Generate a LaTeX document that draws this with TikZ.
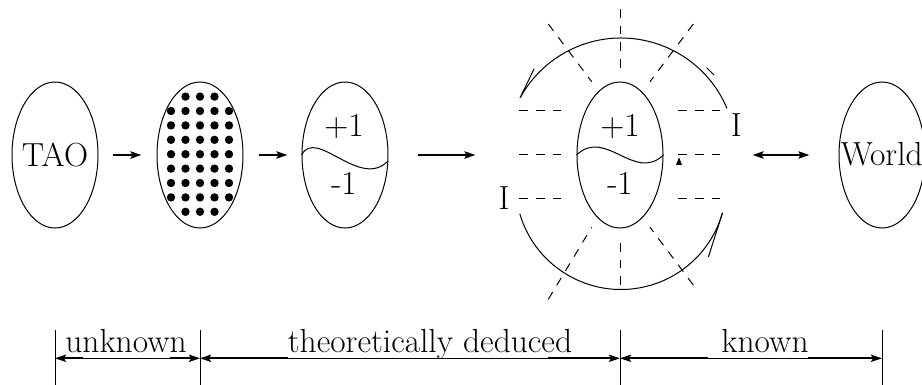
\documentclass[tikz,border=0pt]{standalone}
\usetikzlibrary{shapes.geometric,arrows.meta}
\begin{document}
\begin{tikzpicture}[x=0.5pt,y=0.5pt,
  ell/.style={draw, ellipse, minimum width=43pt, minimum height=73pt, inner sep=0pt, line width=0.5pt},
  lbl/.style={font=\fontsize{16.7}{20}\selectfont, inner sep=0pt, anchor=base},
  arr/.style={line width=1pt, -{Stealth[length=5.5pt,width=3.6pt,inset=1pt]}},
  darr/.style={line width=1pt, {Stealth[length=5.5pt,width=3.6pt,inset=1pt]}-{Stealth[length=5.5pt,width=3.6pt,inset=1pt]}},
  dsh/.style={line width=0.5pt, dash pattern=on 4.3pt off 4pt},
  fine/.style={line width=0.5pt}
]
\useasboundingbox (0,0) rectangle (922,-385);

% ellipses
\node[ell] (tao) at (55,-155) {};
\node[ell] (dots) at (200,-155) {};
\node[ell] (pm) at (345,-155) {};
\node[ell] (core) at (620,-155) {};
\node[ell] (world) at (882,-155) {};

% texts in ellipses
\node[lbl] (taot) at (55,-166.5) {TAO};
\node[lbl] (worldt) at (881.7,-166) {World};
\node[lbl] (pmp) at (344,-136.5) {+1};
\node[lbl] (pmm) at (344,-195) {-1};
\node[lbl] (cop) at (620,-136.5) {+1};
\node[lbl] (com) at (620,-195) {-1};

% dots
\foreach \r in {-3,...,3}{
  \foreach \c in {-2,...,2}{
    \fill (200+14.5*\c,-154.2-14.4*\r) circle[radius=2.1pt];
  }
}
\foreach \c in {-1,0,1}{
  \fill (200+14.5*\c,-154.2-14.4*4) circle[radius=2.1pt];
  \fill (200+14.5*\c,-154.2+14.4*4) circle[radius=2.1pt];
}

% waves
\draw[fine] (pm.west) .. controls (316.3,-127) and (359.7,-190) .. (388,-161);
\draw[fine] (core.west) .. controls (605.7,-127.3) and (634.3,-182.7) .. (core.east);

% arrows
\draw[arr] ([xshift=7pt]tao.east) -- ([xshift=-7.5pt]dots.west);
\draw[arr] ([xshift=7.5pt]dots.east) -- ([xshift=-7pt]pm.west);
\draw[arr] ([xshift=14.5pt]pm.east) -- ([xshift=-50.5pt]core.west);
\draw[darr] ([xshift=44.5pt]core.east) -- ([xshift=-14.5pt]world.west);

% horizontal dashed lines
\foreach \y in {111,155,198.3}{
  \draw[dsh] (519.3,-\y) -- (563.3,-\y);
  \draw[dsh] (678.3,-\y) -- (726.7,-\y);
}
% radial dashed lines
\draw[dsh] (620.7,-9.3) -- (620.7,-68.3);
\draw[dsh] (548.3,-24) -- (591.7,-81.7);
\draw[dsh] (693.3,-24) -- (650,-81.7);
\draw[dsh] (620.7,-285) -- (620.7,-241.7);
\draw[dsh] (548.3,-299.3) -- (591.7,-227.3);
\draw[dsh] (693.3,-285) -- (650,-227.3);

% circular arrows
\draw[fine] (621,-153) ++(22.8:57.5pt) arc[start angle=22.8, end angle=151.3, radius=57.5pt] coordinate (ta);
\draw[fine] (ta) -- ++(7pt,14.5pt);
\draw[fine] (706.7,-67.7) -- (714,-75);
\draw[fine] (621,-184) ++(196.3:52.75pt) arc[start angle=196.3, end angle=344.1, radius=52.75pt] coordinate (tb);
\draw[fine] (tb) -- ++(-7pt,-22pt);
\fill (676,-165) -- (679,-157.3) -- (682,-165) -- cycle;

% I labels
\node[lbl] (ir) at (736.3,-136.7) {I};
\node[lbl] (il) at (504,-209.3) {I};

% dimension lines
\coordinate (v1) at (55,-358.3);
\coordinate (v2) at (200,-358.3);
\coordinate (v3) at (620,-358.3);
\coordinate (v4) at (882,-358.3);
\foreach \v in {v1,v2,v3,v4}{
  \draw[fine] (\v) ++(0,28.3) -- ++(0,-56);
}
\draw[darr] (v1) -- (v2);
\draw[darr] (v2) -- (v3);
\draw[darr] (v3) -- (v4);
\fill[white] (83,-355) rectangle (170,-358.3);
\fill[white] (288,-355) rectangle (548,-358.3);
\fill[white] (708,-355) rectangle (808,-358.3);
\node[lbl] (unk) at (126,-352.8) {unknown};
\node[lbl] (thd) at (430,-352.5) {theoretically deduced};
\node[lbl] (knw) at (765,-352.8) {known};
\end{tikzpicture}
\end{document}
